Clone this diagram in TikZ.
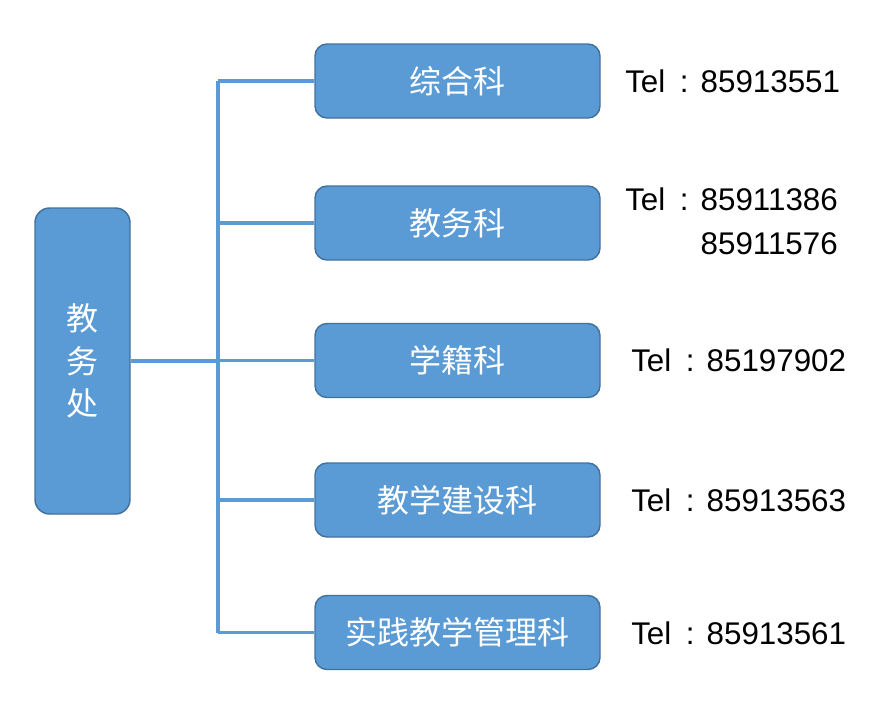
\documentclass[tikz,border=0pt]{standalone}
\usepackage{fontspec}
\setmainfont{Noto Sans CJK SC}
\newfontfamily\telfont{Liberation Sans}
\usepackage{tikz}
\usetikzlibrary{positioning}

\definecolor{boxfill}{HTML}{5B9BD5}
\definecolor{boxline}{HTML}{41719C}

% phone prefix with spaced colon
\newcommand{\telpre}{Tel\hspace{11pt}:\hspace{9pt}}

\begin{document}
\begin{tikzpicture}[
  x=0.75pt, y=-0.75pt,
  office/.style={draw=boxline, fill=boxfill, line width=1.1pt, rounded corners=11pt,
    minimum width=71.25pt, minimum height=229.5pt, align=center, text=white,
    font=\fontsize{24}{32}\selectfont},
  sect/.style={draw=boxline, fill=boxfill, line width=1.1pt, rounded corners=9pt,
    minimum width=213.75pt, minimum height=55.5pt, text=white,
    font=\fontsize{24}{28}\selectfont},
  tel/.style={anchor=west, inner sep=0pt, align=left, font=\telfont\fontsize{23.5}{33}\selectfont},
  link/.style={draw=boxfill, line width=2.3pt}
]
  \useasboundingbox (0,0) rectangle (890,711);

  \node[office] (jwc) at (82.5,361) {教\\务\\处};
  \node[sect] (zh) at (457.5,81) {综合科};
  \node[sect] (jw) at (457.5,223) {教务科};
  \node[sect] (xj) at (457.5,360.5) {学籍科};
  \node[sect] (jx) at (457.5,500) {教学建设科};
  \node[sect] (sj) at (457.5,632.5) {实践教学管理科};

  \node[tel] (tzh) at (625,81) {\telpre 85913551};
  \node[tel] (tjw) at (625,221) {\telpre 85911386\\\phantom{\telpre}85911576};
  \node[tel] (txj) at (631,360) {\telpre 85197902};
  \node[tel] (tjx) at (631,500) {\telpre 85913563};
  \node[tel] (tsj) at (631,633) {\telpre 85913561};

  \coordinate (bus) at (218,361);
  \draw[link] (jwc.east) -- (bus |- jwc.east);
  \draw[link] (bus |- zh.west) -- (bus |- sj.west);
  \foreach \k in {zh,jw,xj,jx,sj}
    \draw[link] (bus |- \k.west) -- (\k.west);
\end{tikzpicture}
\end{document}
